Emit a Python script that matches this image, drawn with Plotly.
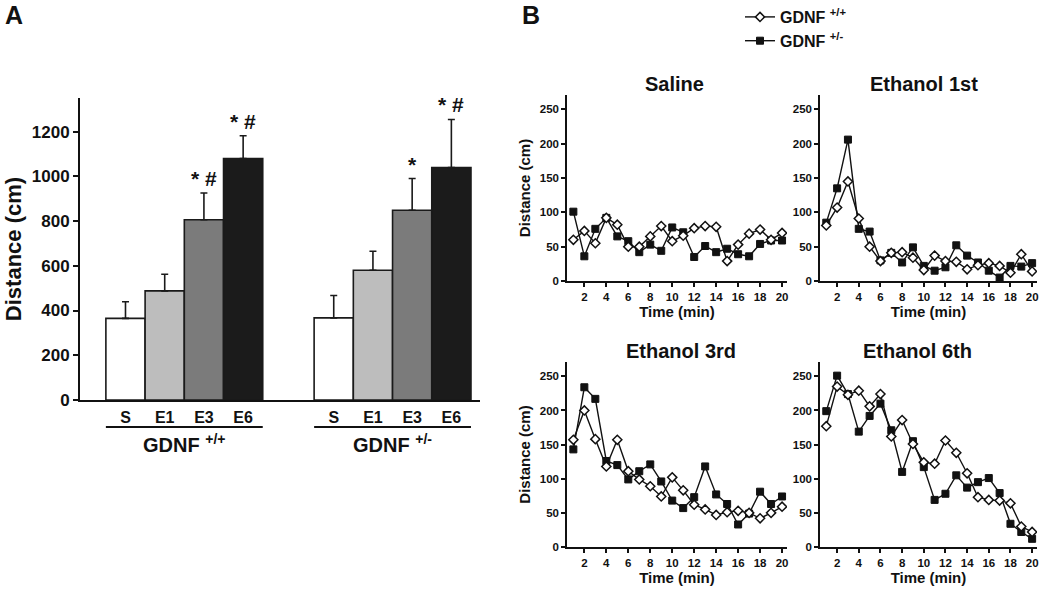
import plotly.graph_objects as go

# ---- data ----
sessions = ["S", "E1", "E3", "E6"]
genotypes = ["GDNF <sup>+/+</sup>", "GDNF <sup>+/-</sup>"]
wt_mean = [365, 488, 806, 1079]
wt_sem = [74, 74, 119, 102]
het_mean = [367, 580, 848, 1039]
het_sem = [100, 85, 142, 215]
wt_marks = ["", "", "* #", "* #"]
het_marks = ["", "", "*", "* #"]
bar_colors = ["#ffffff", "#bdbdbd", "#7b7b7b", "#1b1b1b"]

minutes = list(range(1, 21))
panel_titles = ["Saline", "Ethanol 1st", "Ethanol 3rd", "Ethanol 6th"]
saline_wt = [60, 73, 55, 92, 82, 50, 50, 65, 80, 58, 66, 77, 80, 79, 29, 53, 69, 75, 60, 70]
saline_het = [101, 36, 76, 92, 65, 58, 42, 53, 44, 78, 71, 35, 51, 42, 47, 39, 36, 54, 59, 59]
eth1_wt = [81, 107, 145, 91, 50, 29, 41, 42, 34, 16, 37, 29, 28, 17, 23, 26, 22, 12, 39, 14]
eth1_het = [85, 135, 206, 76, 72, 30, 41, 27, 49, 22, 15, 20, 52, 37, 27, 15, 5, 22, 21, 26]
eth3_wt = [157, 200, 158, 118, 157, 111, 99, 89, 74, 102, 83, 62, 55, 47, 51, 53, 50, 42, 50, 59]
eth3_het = [143, 234, 217, 126, 120, 99, 111, 121, 96, 68, 57, 73, 118, 77, 63, 33, 49, 81, 63, 74]
eth6_wt = [177, 235, 223, 229, 206, 224, 162, 186, 151, 124, 122, 156, 138, 108, 73, 69, 68, 64, 30, 22]
eth6_het = [199, 251, 224, 169, 192, 210, 171, 110, 155, 117, 69, 78, 105, 87, 95, 101, 79, 34, 22, 12]

W, H = 1050, 590
FONT = "Liberation Sans, Arial, sans-serif"
INK = "#111"
GROUP_OFFSET = 5.31


def px_x(p):
    return p / W


def px_y(p):
    return 1 - p / H


def bold(size):
    return dict(size=size, family=FONT, color=INK, weight="bold")


fig = go.Figure()

# ---- panel A: bars ----
groups = [(wt_mean, wt_sem, wt_marks), (het_mean, het_sem, het_marks)]
for g, (mean, sem, marks) in enumerate(groups):
    xs = [i + g * GROUP_OFFSET for i in range(len(sessions))]
    fig.add_trace(go.Bar(
        x=xs, y=mean, width=1, xaxis="x", yaxis="y", showlegend=False,
        marker=dict(color=bar_colors, line=dict(color="#1a1a1a", width=1.6)),
        error_y=dict(type="data", array=sem, arrayminus=[0] * len(sem),
                     symmetric=False, color="#1a1a1a", thickness=1.6, width=3.5),
    ))
    for x, m, s, t in zip(xs, mean, sem, marks):
        if t:
            fig.add_annotation(x=x, y=m + s, xref="x", yref="y", text=t,
                               showarrow=False, yanchor="bottom", yshift=1,
                               font=bold(21))
    # group underline and label
    fig.add_shape(type="line", xref="x", yref="paper",
                  x0=xs[0] - 0.5, x1=xs[-1] + 0.5, y0=px_y(427), y1=px_y(427),
                  line=dict(color=INK, width=2))
    fig.add_annotation(x=(xs[0] + xs[-1]) / 2, y=px_y(443), xref="x", yref="paper",
                       text=genotypes[g], showarrow=False, xanchor="center", yanchor="middle",
                       font=bold(20))

tick_x = [i + g * GROUP_OFFSET for g in range(2) for i in range(len(sessions))]
fig.update_layout(
    xaxis=dict(domain=[px_x(80), px_x(480)], range=[-1.16, 9.04], automargin=False,
               tickvals=tick_x, ticktext=sessions * 2, ticks="outside", ticklen=2,
               tickcolor="rgba(0,0,0,0)", showline=True, linecolor=INK, linewidth=2,
               showgrid=False, zeroline=False, tickfont=bold(16)),
    yaxis=dict(domain=[px_y(400), px_y(98)], range=[0, 1350], automargin=False,
               tickvals=[0, 200, 400, 600, 800, 1000, 1200], ticks="outside", ticklen=5,
               tickwidth=2, tickcolor=INK, showline=True, linecolor=INK, linewidth=2,
               showgrid=False, zeroline=False, tickfont=bold(17),
               title=dict(text="Distance (cm)", standoff=4, font=bold(22))),
)

# ---- panel B: time courses ----
# (wt, het, x pixel span, y pixel span, title centre x, has y title)
panels = [
    (saline_wt, saline_het, (567, 787), (95, 281), 674, True),
    (eth1_wt, eth1_het, (820, 1037), (95, 281), 924, False),
    (eth3_wt, eth3_het, (567, 787), (362, 547), 681, True),
    (eth6_wt, eth6_het, (820, 1037), (362, 547), 917, False),
]
for k, (wt, het, (x0, x1), (y0, y1), tx, ytitle) in enumerate(panels):
    n = k + 2
    xa, ya = f"x{n}", f"y{n}"
    fig.add_trace(go.Scatter(
        x=minutes, y=het, xaxis=xa, yaxis=ya, mode="lines+markers",
        name=genotypes[1], legendgroup="het", showlegend=(k == 0), legendrank=2,
        line=dict(color=INK, width=1.4),
        marker=dict(symbol="square", size=7, color=INK, line=dict(color=INK, width=1)),
    ))
    fig.add_trace(go.Scatter(
        x=minutes, y=wt, xaxis=xa, yaxis=ya, mode="lines+markers",
        name=genotypes[0], legendgroup="wt", showlegend=(k == 0), legendrank=1,
        line=dict(color=INK, width=1.4),
        marker=dict(symbol="diamond", size=7, color="#ffffff", line=dict(color=INK, width=1.5)),
    ))
    fig.layout[f"xaxis{n}"] = dict(
        domain=[px_x(x0), px_x(x1)], range=[0.42, 20.45], anchor=ya, automargin=False,
        tickvals=list(range(2, 21, 2)), ticks="outside", ticklen=4, tickwidth=1.5,
        tickcolor=INK, showline=True, linecolor=INK, linewidth=1.5,
        showgrid=False, zeroline=False, tickfont=bold(11.5),
        title=dict(text="Time (min)", standoff=4, font=bold(15)),
    )
    yax = dict(
        domain=[px_y(y1), px_y(y0)], range=[0, 271], anchor=xa, automargin=False,
        tickvals=[0, 50, 100, 150, 200, 250], ticks="outside", ticklen=4, tickwidth=1.5,
        tickcolor=INK, showline=True, linecolor=INK, linewidth=1.5,
        showgrid=False, zeroline=False, tickfont=bold(11.5),
    )
    if ytitle:
        yax["title"] = dict(text="Distance (cm)", standoff=6, font=bold(15))
    fig.layout[f"yaxis{n}"] = yax
    fig.add_annotation(x=px_x(tx), y=px_y(y0 - 11),
                       xref="paper", yref="paper", text=panel_titles[k],
                       showarrow=False, xanchor="center", yanchor="middle", font=bold(20))

# panel letters
for letter, lx in [("A", 14), ("B", 531)]:
    fig.add_annotation(x=px_x(lx), y=px_y(15), xref="paper", yref="paper", text=letter,
                       showarrow=False, xanchor="center", yanchor="middle", font=bold(25))

fig.update_layout(
    width=W, height=H, margin=dict(l=0, r=0, t=0, b=0),
    paper_bgcolor="white", plot_bgcolor="white",
    font=dict(family=FONT, color=INK, weight="bold"),
    legend=dict(x=px_x(740), y=1, xanchor="left", yanchor="top",
                bgcolor="rgba(0,0,0,0)", tracegroupgap=0, font=bold(16)),
)

# drop the browser's default body margin so the figure sits at the page corner
fig.write_html("out.html", config={"displayModeBar": False},
               post_script="document.body.style.margin='0px';")
